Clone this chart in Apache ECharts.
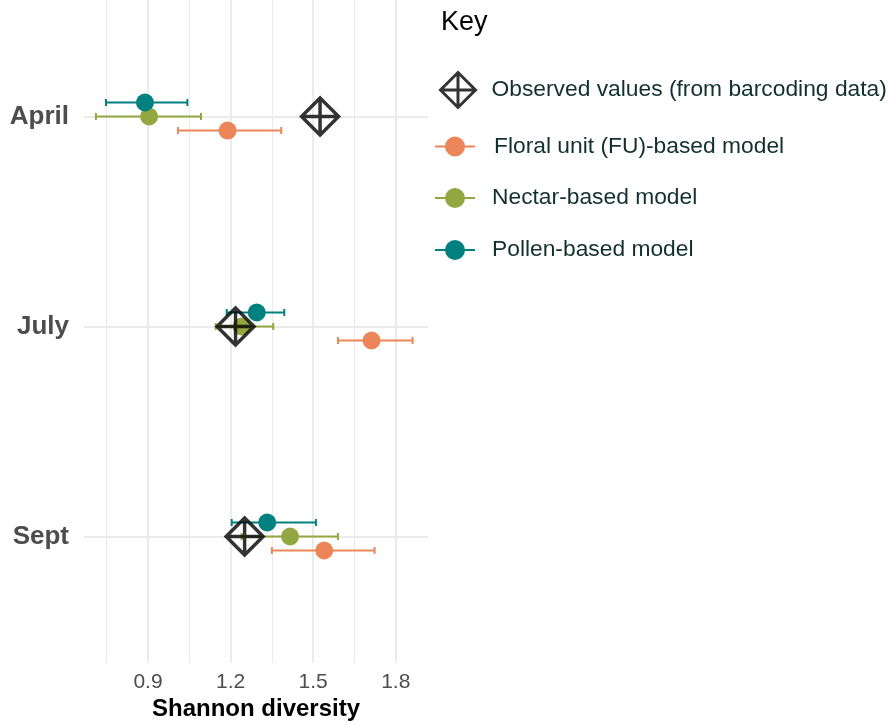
<!DOCTYPE html>
<html><head><meta charset="utf-8">
<script src="https://cdn.jsdelivr.net/npm/echarts@6/dist/echarts.min.js"></script>
<style>html,body{margin:0;padding:0;background:#fff}#c{width:893px;height:725px}</style>
</head><body><div id="c"></div>
<script>
// ---- data ----
const months = ['April', 'July', 'Sept'];
const observed = [1.525, 1.218, 1.251];
const fuMean = [1.189, 1.712, 1.540];
const fuLow = [1.009, 1.590, 1.350];
const fuHigh = [1.384, 1.861, 1.723];
const nectarMean = [0.904, 1.240, 1.416];
const nectarLow = [0.711, 1.146, 1.240];
const nectarHigh = [1.0925, 1.355, 1.590];
const pollenMean = [0.889, 1.295, 1.333];
const pollenLow = [0.7475, 1.186, 1.204];
const pollenHigh = [1.043, 1.395, 1.510];
const xMajorTicks = [0.9, 1.2, 1.5, 1.8];
const xMinorTicks = [0.75, 1.05, 1.35, 1.65];
const legendTitle = 'Key';
const observedName = 'Observed values (from barcoding data)';
const fuName = 'Floral unit (FU)-based model';
const nectarName = 'Nectar-based model';
const pollenName = 'Pollen-based model';

// ---- styling / layout ----
const FONT = '"Liberation Sans", Arial, Helvetica, sans-serif';
const DODGE = 0.0667;
const models = [
  { name: fuName, color: '#EC8557', mean: fuMean, low: fuLow, high: fuHigh, off: DODGE },
  { name: nectarName, color: '#93A741', mean: nectarMean, low: nectarLow, high: nectarHigh, off: 0 },
  { name: pollenName, color: '#00817F', mean: pollenMean, low: pollenLow, high: pollenHigh, off: -DODGE }
];
const catPos = months.map((m, i) => i + 1);

const chart = echarts.init(document.getElementById('c'), null, { renderer: 'canvas' });

const series = [];
// gridlines (drawn underneath everything)
series.push({
  type: 'line', data: [], silent: true, z: 0,
  markLine: {
    silent: true, animation: false, symbol: ['none', 'none'], label: { show: false }, z: 0,
    data: [
      ...xMinorTicks.map(v => ({ xAxis: v, lineStyle: { color: '#EBEBEB', width: 1, type: 'solid' } })),
      ...xMajorTicks.map(v => ({ xAxis: v, lineStyle: { color: '#EBEBEB', width: 2, type: 'solid' } })),
      ...catPos.map(v => ({ yAxis: v, lineStyle: { color: '#EBEBEB', width: 2, type: 'solid' } }))
    ]
  }
});

models.forEach(m => {
  series.push({
    type: 'custom', name: m.name, z: 10,
    itemStyle: { color: m.color },
    data: m.mean.map((v, i) => [m.low[i], m.high[i], catPos[i] + m.off]),
    renderItem: function (params, api) {
      const a = api.coord([api.value(0), api.value(2)]);
      const b = api.coord([api.value(1), api.value(2)]);
      const h = 3.5;
      const st = { stroke: m.color, lineWidth: 2 };
      return {
        type: 'group',
        children: [
          { type: 'line', shape: { x1: a[0], y1: a[1], x2: b[0], y2: b[1] }, style: st },
          { type: 'line', shape: { x1: a[0], y1: a[1] - h, x2: a[0], y2: a[1] + h }, style: st },
          { type: 'line', shape: { x1: b[0], y1: b[1] - h, x2: b[0], y2: b[1] + h }, style: st }
        ]
      };
    }
  });
  series.push({
    type: 'scatter', name: m.name, z: 11,
    symbol: 'circle', symbolSize: 18,
    itemStyle: { color: m.color, opacity: 1 },
    data: m.mean.map((v, i) => [v, catPos[i] + m.off])
  });
});

const diamondPath = 'path://M20,0L40,20L20,40L0,20Z M20,0L20,40 M0,20L40,20';
series.push({
  type: 'scatter', name: observedName, z: 12,
  symbol: diamondPath, symbolSize: 37,
  itemStyle: { color: 'rgba(0,0,0,0)', borderColor: '#000', borderWidth: 3.5 },
  data: observed.map((v, i) => [v, catPos[i]])
});

const circlePath = 'path://M0,9L40,9L40,11L0,11Z M30,10A10,10,0,1,1,10,10A10,10,0,1,1,30,10Z';
const legendText = { color: '#12302C', fontSize: 22.8, fontFamily: FONT };
function mkLegend(name, top, icon, w, h, itemStyle, pad) {
  return {
    orient: 'vertical', left: name === observedName ? 439 : 435, top: top, padding: 0,
    itemWidth: w, itemHeight: h, selectedMode: false,
    textStyle: Object.assign({}, legendText, { padding: [0, 0, 0, pad] }),
    data: [{ name: name, icon: icon, itemStyle: itemStyle }]
  };
}

const option = {
  animation: false,
  backgroundColor: '#ffffff',
  title: {
    text: legendTitle, left: 441, top: 9, padding: 0,
    textStyle: { fontFamily: FONT, fontSize: 27, fontWeight: 'normal', color: '#000' }
  },
  legend: [
    mkLegend(observedName, 71, diamondPath, 35, 35, { color: 'rgba(0,0,0,0)', borderColor: '#000', borderWidth: 3 }, 11),
    mkLegend(fuName, 135, circlePath, 40, 20, { color: models[0].color, borderWidth: 0 }, 14),
    mkLegend(nectarName, 186.5, circlePath, 40, 20, { color: models[1].color, borderWidth: 0 }, 12),
    mkLegend(pollenName, 238.5, circlePath, 40, 20, { color: models[2].color, borderWidth: 0 }, 12)
  ],
  grid: { left: 84, right: 465, top: 0, bottom: 62.5, containLabel: false, outerBoundsMode: 'none' },
  xAxis: {
    type: 'value', min: 0.6676, max: 1.917,
    axisLine: { show: false }, axisTick: { show: false }, splitLine: { show: false },
    axisLabel: {
      customValues: xMajorTicks, formatter: v => v.toFixed(1),
      color: '#4D4D4D', fontSize: 21, fontFamily: FONT, margin: 9.5
    },
    name: 'Shannon diversity', nameLocation: 'middle', nameGap: 34.5, nameMoveOverlap: false,
    nameTextStyle: { fontFamily: FONT, fontSize: 24, fontWeight: 'bold', color: '#000' }
  },
  yAxis: {
    type: 'value', inverse: true, min: 0.4452, max: 3.6,
    axisLine: { show: false }, axisTick: { show: false }, splitLine: { show: false },
    axisLabel: {
      customValues: catPos, formatter: v => months[Math.round(v) - 1] || '',
      color: '#4D4D4D', fontSize: 26, fontWeight: 'bold', fontFamily: FONT, margin: 15
    }
  },
  series: series
};
chart.setOption(option);
</script>
</body></html>
